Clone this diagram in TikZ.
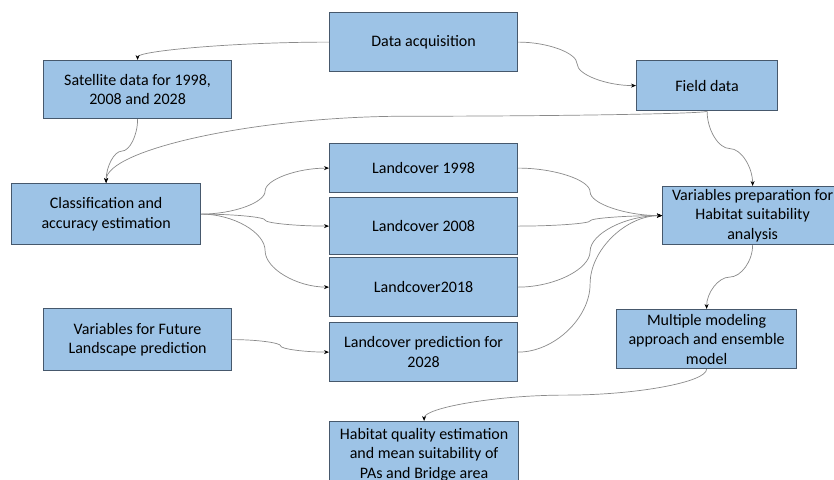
\documentclass[tikz,border=0pt]{standalone}
\usepackage{fontspec}
\setmainfont{Carlito}
\usetikzlibrary{arrows.meta,calc}
\definecolor{boxfill}{HTML}{9DC3E6}
\definecolor{boxline}{HTML}{46586C}
\definecolor{conncol}{HTML}{8A8A8A}
\begin{document}
\begin{tikzpicture}[x=1pt,y=-1pt,
  box/.style={draw=boxline, line width=1.2pt, fill=boxfill, anchor=north west,
    align=center, inner sep=0pt, font=\fontsize{16}{19.5}\selectfont, text=black},
  link/.style={draw=conncol, line width=0.7pt, -{Stealth[length=5pt,width=4pt,color=black]}},
  hs/.style={to path={let \p1=(\tikztostart),\p2=(\tikztotarget) in
    .. controls ({\x1+#1*(\x2-\x1)/2},\y1) and ({\x1+#1*(\x2-\x1)},{0.75*\y1+0.25*\y2})
    .. ({\x1+#1*(\x2-\x1)},{0.5*\y1+0.5*\y2})
    .. controls ({\x1+#1*(\x2-\x1)},{0.25*\y1+0.75*\y2}) and ({\x2-(1-#1)*(\x2-\x1)/2},\y2)
    .. (\x2,\y2)}},
  hs/.default=0.5,
  vs/.style={to path={let \p1=(\tikztostart),\p2=(\tikztotarget) in
    .. controls (\x1,{\y1+#1*(\y2-\y1)/2}) and ({0.75*\x1+0.25*\x2},{\y1+#1*(\y2-\y1)})
    .. ({0.5*\x1+0.5*\x2},{\y1+#1*(\y2-\y1)})
    .. controls ({0.25*\x1+0.75*\x2},{\y1+#1*(\y2-\y1)}) and (\x2,{\y2-(1-#1)*(\y2-\y1)/2})
    .. (\x2,\y2)}},
  vs/.default=0.5,
  elbowcurve/.style={to path={let \p1=(\tikztostart),\p2=(\tikztotarget) in
    .. controls ({0.5*\x1+0.5*\x2},\y1) and (\x2,{0.5*\y1+0.5*\y2}) .. (\x2,\y2)}}
]
\useasboundingbox (0,0) rectangle (834,479);
\clip (0,0) rectangle (834,479);

\node[box,minimum width=188pt,minimum height=59pt] (da) at (329,12) {Data acquisition};
\node[box,minimum width=188pt,minimum height=58pt] (sat) at (43,60) {Satellite data for 1998,\\2008 and 2028};
\node[box,minimum width=141pt,minimum height=50pt] (fd) at (636,60) {Field data};
\node[box,minimum width=189pt,minimum height=61pt] (cl) at (11,183) {Classification and\\accuracy estimation};
\node[box,minimum width=188pt,minimum height=49pt] (l98) at (329,143) {Landcover 1998};
\node[box,minimum width=188pt,minimum height=57pt] (l08) at (329,197) {Landcover 2008};
\node[box,minimum width=188pt,minimum height=59pt] (l18) at (329,257) {Landcover2018};
\node[box,minimum width=188pt,minimum height=59pt] (lp) at (329,322) {Landcover prediction for\\2028};
\node[box,minimum width=180pt,minimum height=58pt] (vp) at (662,186) {Variables preparation for\\Habitat suitability\\analysis};
\node[box,minimum width=180pt,minimum height=59pt] (mm) at (616,309) {Multiple modeling\\approach and ensemble\\model};
\node[box,minimum width=188pt,minimum height=62pt] (vf) at (43,308) {Variables for Future\\Landscape prediction};
\node[box,minimum width=189pt,minimum height=66pt] (hq) at (329,421) {Habitat quality estimation\\and mean suitability of\\PAs and Bridge area};

\draw[link] (da.west) to[elbowcurve] (sat.north);
\draw[link] (da.east) to[hs] (fd.west);
\draw[link] (fd.south) to[vs=0.07] (cl.north);
\draw[link] (sat.south) to[vs] (cl.north);
\draw[link] (fd.south) to[vs] (vp.north);
\draw[link] (cl.east) to[hs] (l98.west);
\draw[link] (cl.east) to[hs] (l08.west);
\draw[link] (cl.east) to[hs] (l18.west);
\draw[link] (l98.east) to[hs] (vp.west);
\draw[link] (l08.east) to[hs] (vp.west);
\draw[link] (l18.east) to[hs] (vp.west);
\draw[link] (lp.east) to[hs] (vp.west);
\draw[link] (vf.east) to[hs] (lp.west);
\draw[link] (vp.south) to[vs] (mm.north);
\draw[link] (mm.south) to[vs] (hq.north);
\end{tikzpicture}
\end{document}
